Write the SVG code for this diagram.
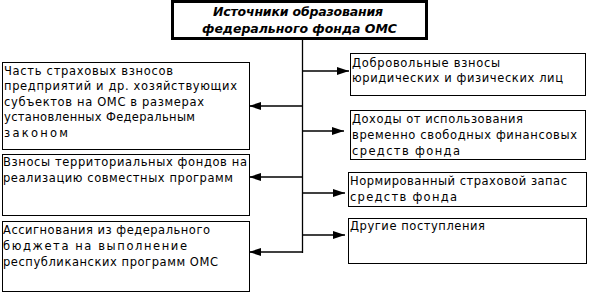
<svg xmlns="http://www.w3.org/2000/svg" width="589" height="293" viewBox="0 0 589 293">
<defs>
<style>
.box{fill:#fff;stroke:#000;stroke-width:1}
.title{fill:#fff;stroke:#000;stroke-width:3}
.t{font-family:"DejaVu Sans",sans-serif;font-size:11.5px;fill:#000}
.tt{font-family:"DejaVu Sans",sans-serif;font-size:12.5px;font-weight:bold;font-style:italic;fill:#000}
.ln{stroke:#000;stroke-width:1.3;fill:none}
</style>
<marker id="ah" viewBox="0 0 12 8" refX="12" refY="4" markerWidth="12" markerHeight="8" markerUnits="userSpaceOnUse" orient="auto">
<path d="M0,0 L12,4 L0,8 Z" fill="#000"/>
</marker>
</defs>
<rect width="589" height="293" fill="#fff"/>
<g id="title">
<rect class="title" x="172.5" y="1.5" width="254" height="37"/>
<text class="tt" x="213" y="16" textLength="170" lengthAdjust="spacing">Источники образования</text>
<text class="tt" x="202" y="33" textLength="195" lengthAdjust="spacing">федерального фонда ОМС</text>
</g>
<g id="left1">
<rect class="box" x="2.5" y="62.5" width="247" height="87"/>
<text class="t" x="4" y="74.5" textLength="169" lengthAdjust="spacing">Часть страховых взносов</text>
<text class="t" x="4" y="90" textLength="233" lengthAdjust="spacing">предприятий и др. хозяйствующих</text>
<text class="t" x="4" y="105.7" textLength="200" lengthAdjust="spacing">субъектов на ОМС в размерах</text>
<text class="t" x="4" y="121" textLength="191" lengthAdjust="spacing">установленных Федеральным</text>
<text class="t" x="4" y="136.7" textLength="64" lengthAdjust="spacing">законом</text>
</g>
<g id="left2">
<rect class="box" x="2.5" y="154.5" width="247" height="61"/>
<text class="t" x="3" y="165.5" textLength="244" lengthAdjust="spacing">Взносы территориальных фондов на</text>
<text class="t" x="3" y="181.5" textLength="230" lengthAdjust="spacing">реализацию совместных программ</text>
</g>
<g id="left3">
<rect class="box" x="2.5" y="221.5" width="247" height="70"/>
<text class="t" x="3" y="234" textLength="207" lengthAdjust="spacing">Ассигнования из федерального</text>
<text class="t" x="3" y="250" textLength="184" lengthAdjust="spacing">бюджета на выполнение</text>
<text class="t" x="3" y="265.5" textLength="215" lengthAdjust="spacing">республиканских программ ОМС</text>
</g>
<g id="right1">
<rect class="box" x="350.5" y="53.5" width="235" height="42"/>
<text class="t" x="352" y="66.7" textLength="148" lengthAdjust="spacing">Добровольные взносы</text>
<text class="t" x="352" y="82.3" textLength="211" lengthAdjust="spacing">юридических и физических лиц</text>
</g>
<g id="right2">
<rect class="box" x="350.5" y="110.5" width="235" height="49"/>
<text class="t" x="352" y="123" textLength="171" lengthAdjust="spacing">Доходы от использования</text>
<text class="t" x="352" y="139" textLength="225" lengthAdjust="spacing">временно свободных финансовых</text>
<text class="t" x="352" y="155" textLength="108" lengthAdjust="spacing">средств фонда</text>
</g>
<g id="right3">
<rect class="box" x="348.5" y="172.5" width="238" height="34"/>
<text class="t" x="350" y="185" textLength="217" lengthAdjust="spacing">Нормированный страховой запас</text>
<text class="t" x="350" y="200.7" textLength="107" lengthAdjust="spacing">средств фонда</text>
</g>
<g id="right4">
<rect class="box" x="348.5" y="218.5" width="238" height="45"/>
<text class="t" x="350" y="230" textLength="135" lengthAdjust="spacing">Другие поступления</text>
</g>
<g id="connectors">
<line class="ln" x1="302.5" y1="40" x2="302.5" y2="253"/>
<line class="ln" x1="302.5" y1="106" x2="249" y2="106" marker-end="url(#ah)"/>
<line class="ln" x1="302.5" y1="177" x2="249" y2="177" marker-end="url(#ah)"/>
<line class="ln" x1="302.5" y1="252" x2="249" y2="252" marker-end="url(#ah)"/>
<line class="ln" x1="302.5" y1="71" x2="349" y2="71" marker-end="url(#ah)"/>
<line class="ln" x1="302.5" y1="131" x2="344" y2="131" marker-end="url(#ah)"/>
<line class="ln" x1="302.5" y1="193" x2="345" y2="193" marker-end="url(#ah)"/>
<line class="ln" x1="302.5" y1="235" x2="345" y2="235" marker-end="url(#ah)"/>
</g>
</svg>
